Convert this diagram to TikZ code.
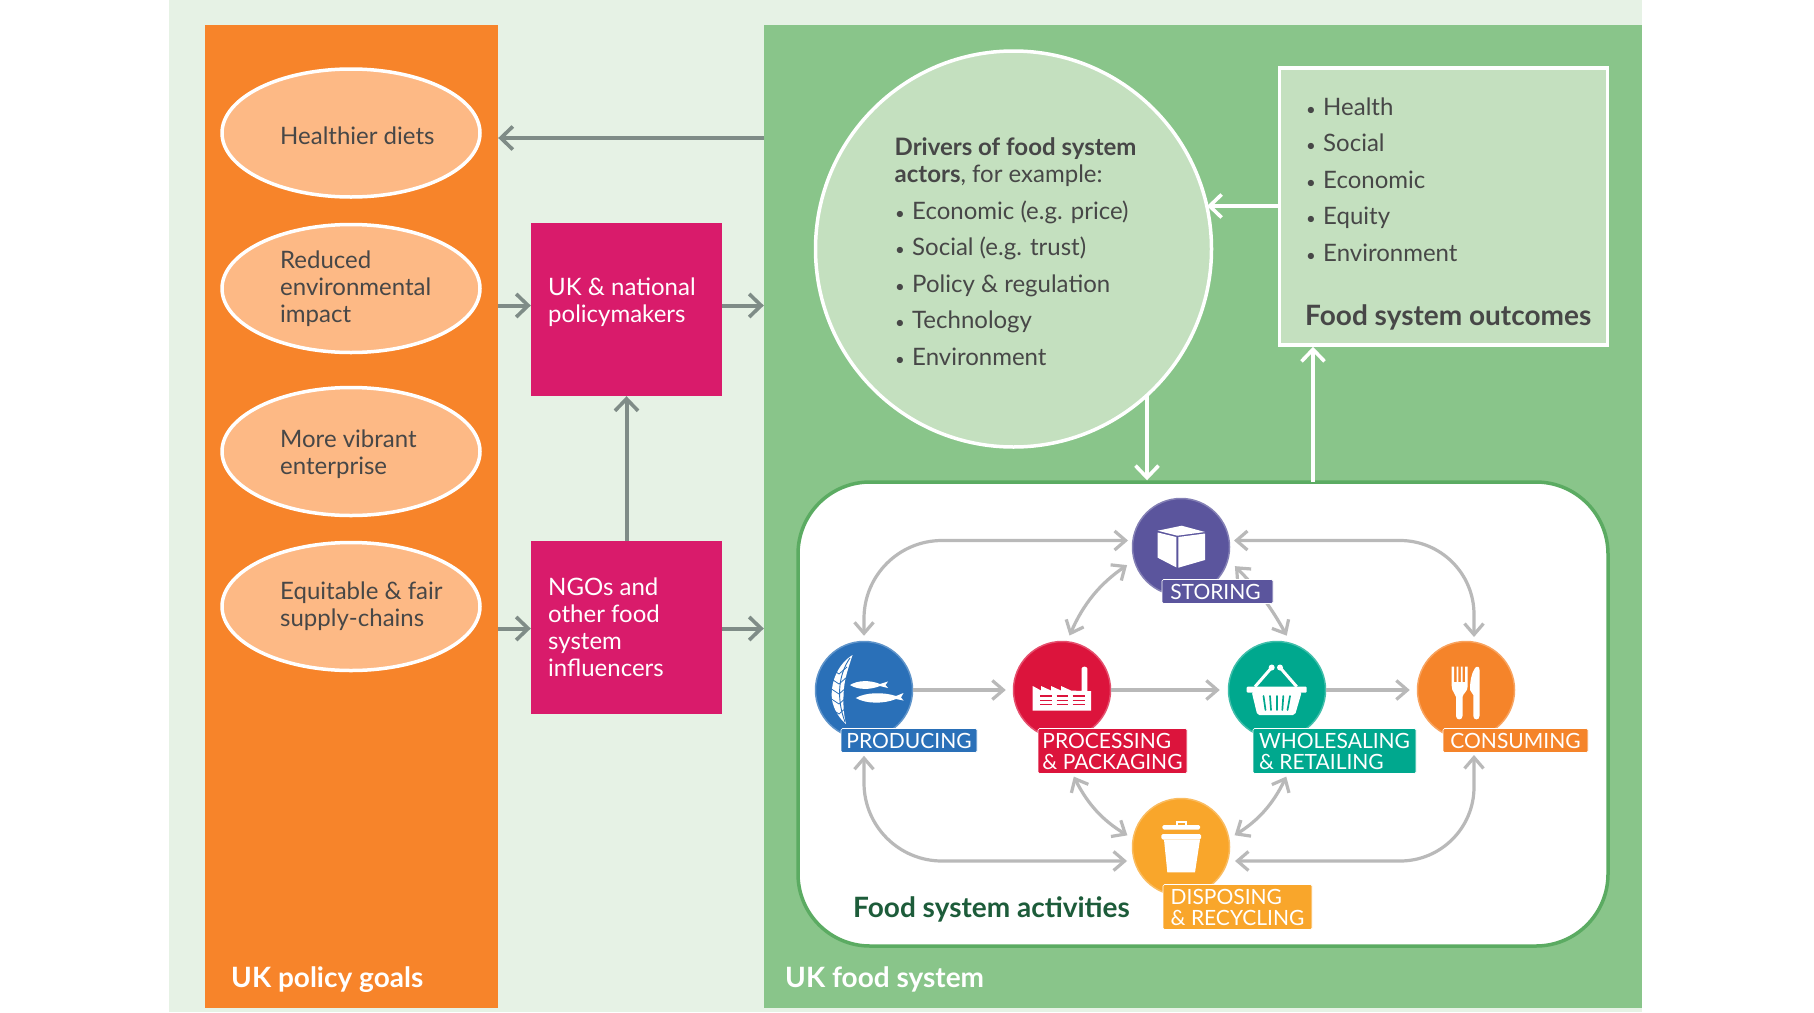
\documentclass[tikz,border=0pt]{standalone}
\usepackage{fontspec}
\setmainfont{Lato}
\usetikzlibrary{shapes.geometric,arrows.meta,calc}
\definecolor{pale}{HTML}{E6F2E5}
\definecolor{goalorange}{HTML}{F7842A}
\definecolor{sysgreen}{HTML}{89C58A}
\definecolor{softgreen}{HTML}{C4E0BF}
\definecolor{peach}{HTML}{FDB985}
\definecolor{rimgreen}{HTML}{5BAB62}
\definecolor{magenta}{HTML}{D91B6B}
\definecolor{ink}{HTML}{474747}
\definecolor{midgrey}{HTML}{7F8C87}
\definecolor{lightgrey}{HTML}{B9B9B9}
\definecolor{darkgreen}{HTML}{1D5C3A}
\definecolor{cblue}{HTML}{2A70B8}
\definecolor{cred}{HTML}{DC143C}
\definecolor{cteal}{HTML}{00A88E}
\definecolor{corange}{HTML}{F5842A}
\definecolor{cpurple}{HTML}{5B559D}
\definecolor{camber}{HTML}{F9A62B}
\newcommand{\bodyfont}{\fontsize{24}{27}\selectfont}
\newcommand{\listfont}{\fontsize{24}{36.4}\selectfont}
\newcommand{\itm}{\makebox[17pt][l]{\scalebox{.7}{•}}}
\tikzset{
  x=1pt,y=-1pt,
  goal/.style={ellipse,draw=white,line width=3.5pt,fill=peach,minimum width=258pt,minimum height=128pt,inner sep=0pt},
  actor/.style={rectangle,fill=magenta,inner sep=0pt,minimum width=191pt,minimum height=173pt},
  textlabel/.style={anchor=west,inner sep=0pt,align=left,text=ink,font=\bodyfont},
  whitelabel/.style={textlabel,text=white},
  title/.style={anchor=west,inner sep=0pt,font=\fontsize{28}{30}\selectfont\bfseries},
  stage/.style={circle,fill=#1,draw=#1!75!white,line width=1.5pt,minimum size=97pt,inner sep=0pt},
  tag/.style={rectangle,rounded corners=1.5pt,fill=#1,draw=white,line width=.6pt,inner sep=0pt,text=white,
    align=left,font=\fontsize{21}{21}\selectfont},
  mainarrow/.style={draw=midgrey,line width=4pt,-{Straight Barb[length=12pt,width=23pt,line width=3.6pt]}},
  whitearrow/.style={draw=white,line width=4pt,-{Straight Barb[length=12pt,width=23pt,line width=3.6pt]}},
  flow/.style={draw=lightgrey,line width=4.5pt,-{Straight Barb[length=11pt,width=19pt,line width=3.2pt]}},
  link/.style={draw=lightgrey,line width=3.2pt,{Straight Barb[length=11pt,width=19pt,line width=3.2pt]}-{Straight Barb[length=11pt,width=19pt,line width=3.2pt]}},
}
\begin{document}
\begin{tikzpicture}
\useasboundingbox (0,0) rectangle (1814,1012);
\fill[white] (0,0) rectangle (1814,1012);
\fill[pale] (169,0) rectangle (1642,1012);

% panels
\node[rectangle,fill=goalorange,inner sep=0pt,minimum width=293pt,minimum height=983pt] (goals) at (351.5,516) {};
\node[rectangle,fill=sysgreen,inner sep=0pt,minimum width=878pt,minimum height=983pt] (system) at (1203,516) {};
\node[title,text=white] (goalstitle) at (231,979.5) {UK policy goals};
\node[title,text=white] (systemtitle) at (785,979.5) {UK food system};

% policy goals
\node[goal] (g1) at (351,133) {};
\node[goal] (g2) at (351,288.5) {};
\node[goal] (g3) at (351,451.5) {};
\node[goal] (g4) at (351,606.5) {};
\node[textlabel] (g1t) at (280,135.5) {Healthier diets};
\node[textlabel] (g2t) at (280,289) {Reduced\\environmental\\impact};
\node[textlabel] (g3t) at (280,454) {More vibrant\\enterprise};
\node[textlabel] (g4t) at (280,606) {Equitable \& fair\\supply-chains};

% actors
\node[actor] (policy) at (626.5,309.5) {};
\node[actor] (ngo) at (626.5,627.5) {};
\node[whitelabel] (policyt) at (548,302) {UK \& national\\policymakers};
\node[whitelabel] (ngot) at (548,627.5) {NGOs and\\other food\\system\\influencers};

% drivers and outcomes
\node[circle,fill=softgreen,draw=white,line width=3.5pt,minimum size=396pt,inner sep=0pt] (drivers) at (1013.5,249) {};
\node[textlabel] (driverhead) at (894.5,162.5) {\textbf{Drivers of food system}\\\textbf{actors}, for example:};
\node[textlabel,font=\listfont] (driverlist) at (895,283) {\itm Economic (e.g. price)\\\itm Social (e.g. trust)\\\itm Policy \& regulation\\\itm Technology\\\itm Environment};
\node[rectangle,fill=softgreen,draw=white,line width=3.5pt,inner sep=0pt,minimum width=328pt,minimum height=277pt] (outcomes) at (1443.5,206.5) {};
\node[textlabel,font=\listfont] (outcomelist) at (1306,179.5) {\itm Health\\\itm Social\\\itm Economic\\\itm Equity\\\itm Environment};
\node[title,text=ink] (outcometitle) at (1305,317) {Food system outcomes};

% activities panel
\node[rectangle,rounded corners=72pt,fill=white,draw=rimgreen,line width=3.5pt,inner sep=0pt,minimum width=810pt,minimum height=464pt] (activities) at (1203,714) {};
\node[title,text=darkgreen] (activitiestitle) at (853,909) {Food system activities};

% links between the panels
\draw[mainarrow] (system.west |- 0,138) -- (goals.east |- 0,138);
\coordinate (a) at (goals.east |- 0,305.5);
\coordinate (b) at (goals.east |- 0,628.5);
\draw[mainarrow] (a) -- (policy.west |- a);
\draw[mainarrow] (policy.east |- a) -- (system.west |- a);
\draw[mainarrow] (b) -- (ngo.west |- b);
\draw[mainarrow] (ngo.east |- b) -- (system.west |- b);
\draw[mainarrow] (ngo.north) -- (policy.south);
\coordinate (dside) at (1207,206);
\draw[whitearrow] (outcomes.west |- dside) -- (dside);
\coordinate (dfoot) at (1147,395);
\draw[whitearrow] (dfoot) -- (activities.north -| dfoot);
\coordinate (ofoot) at (1313,482);
\draw[whitearrow] (ofoot) -- (outcomes.south -| ofoot);

% stage circles
\node[stage=cblue] (prod) at (864,690) {};
\node[stage=cred] (proc) at (1062,690) {};
\node[stage=cteal] (whole) at (1277,690) {};
\node[stage=corange] (cons) at (1466,690) {};
\node[stage=cpurple] (stor) at (1181,547) {};
\node[stage=camber] (disp) at (1181,847) {};

% stage tags
\node[tag=cblue,minimum width=136pt,minimum height=24pt] (prodtag) at (909,740.5) {PRODUCING};
\node[tag=cred,minimum width=149pt,minimum height=45pt] (proctag) at (1112.5,751) {PROCESSING\\\& PACKAGING};
\node[tag=cteal,minimum width=163pt,minimum height=45pt] (wholetag) at (1334.5,751) {WHOLESALING\\\& RETAILING};
\node[tag=corange,minimum width=145pt,minimum height=24pt] (constag) at (1515.5,740.5) {CONSUMING};
\node[tag=camber,minimum width=149pt,minimum height=45pt] (disptag) at (1237.5,907) {DISPOSING\\\& RECYCLING};

% flows between the stages
\draw[flow,shorten >=7pt] (prod.east) -- (proc.west);
\draw[flow,shorten >=8pt] (proc.east) -- (whole.west);
\draw[flow,shorten >=7pt] (whole.east) -- (cons.west);
\coordinate (storleft) at (1133,540.5);
\coordinate (storright) at (1229,540.5);
\coordinate (displeft) at (1133,861);
\coordinate (dispright) at (1229,861);
\coordinate (consfoot) at (1474,752);
\coordinate (consknee) at (1474,642);
\draw[link,shorten <=5pt,shorten >=5pt,rounded corners=78pt] (storleft) -| (prod.north);
\draw[link,shorten <=5pt,shorten >=5pt,rounded corners=74pt] (storright) -| (consknee);
\draw[link,shorten <=6pt,shorten >=3pt,rounded corners=78pt] (displeft) -| (prod.south |- prodtag.south);
\draw[link,shorten <=6pt,shorten >=3pt,rounded corners=74pt] (dispright) -| (consfoot);
\draw[link,shorten <=8pt,shorten >=6pt] (stor.196) to[bend right=16] (proc.84);
\draw[link,shorten <=9pt,shorten >=8pt] (stor.345) to[bend left=8] (whole.74);
\coordinate (procfoot) at (1072,773);
\coordinate (wholefoot) at (1288,773);
\draw[link,shorten <=4pt,shorten >=6pt] (procfoot) to[bend right=16] (disp.170);
\draw[link,shorten <=4pt,shorten >=6pt] (wholefoot) to[bend left=16] (disp.10);
\node[tag=cpurple,minimum width=111pt,minimum height=24pt] (stortag) at (1217.5,591.5) {STORING\kern4pt};

% crate
\fill[white] (1157.7,530.7) -- (1181.7,525.7) -- (1205,532) -- (1177.3,535.7) -- cycle;
\fill[white] (1157.7,532.5) -- (1176.3,537) -- (1176.3,567.4) -- (1157.7,557.7) -- cycle;
\fill[white] (1178.3,537) -- (1205,533.5) -- (1205,560) -- (1178.3,567.7) -- cycle;

% wheat and fish
\fill[white] (852.5,655) .. controls (838,664) and (830,682) .. (832,700) .. controls (834,710) and (839,718) .. (846,724) .. controls (843,712) and (843,700) .. (844,688) .. controls (845,677) and (849,666) .. (852.5,655) -- cycle;
\foreach \yy in {672,682,692,702,712} \draw[cblue,line width=.8pt] (830,\yy-4) -- (839,\yy+2) -- (847,\yy-5);
\draw[cblue,line width=.9pt] (850,658) .. controls (840,672) and (835,695) .. (845,722);
\fill[white] (850,685) .. controls (858,680) and (870,680) .. (880,684) -- (888,681.5) -- (885.5,685) -- (888,688) -- (880,686) .. controls (870,690) and (858,690) .. (850,685) -- cycle;
\fill[white] (855.7,698) .. controls (866,692) and (884,692) .. (896,696) -- (903.5,693) -- (901,697.5) -- (903.5,700.5) -- (896,699) .. controls (884,704) and (866,704) .. (855.7,698) -- cycle;

% factory
\fill[white] (1032.7,686) -- (1041,690.5) -- (1041,686) -- (1051,690.5) -- (1051,686) -- (1061,690.5) -- (1061,686) -- (1071,690.5) -- (1081.7,691) -- (1081.7,668.5) .. controls (1082,666) and (1087,666) .. (1087.3,668.5) -- (1087.3,691) -- (1091,691) -- (1091,710.7) -- (1032.7,710.7) -- cycle;
\foreach \xa/\xb in {1040/1051.7,1056.7/1068.3,1072.7/1085}
  \foreach \yy in {696,700.5,704.5}
    \draw[cred,line width=1.3pt] (\xa,\yy) -- (\xb,\yy);

% basket
\fill[white,rounded corners=1pt] (1246.7,686.7) rectangle (1306.7,692.7);
\fill[white,rounded corners=2pt] (1251.7,692) -- (1301.7,692) -- (1295,715) -- (1257.3,715) -- cycle;
\foreach \xa/\xb in {1263.5/1265.5,1270/1271,1276.7/1276.7,1283.3/1282.3,1290/1287.5}
  \draw[cteal,line width=1.7pt,line cap=round] (\xa,696) -- (\xb,710);
\draw[white,line width=3pt] (1255,686.7) -- (1271.7,667.5);
\draw[white,line width=3pt] (1296.7,686.7) -- (1280,667.5);
\fill[white] (1271.7,667.5) circle (3pt) (1280,667.5) circle (3pt);

% cutlery
\fill[white] (1451.7,666.7) -- (1454.2,666.7) -- (1454.2,682) -- (1456.6,682) -- (1456.6,666.7) -- (1458.4,666.7) -- (1458.4,682) -- (1460.8,682) -- (1460.8,666.7) -- (1462.6,666.7) -- (1462.6,682) -- (1465,682) -- (1465,666.7) -- (1467.7,666.7) -- (1467.7,686) .. controls (1467.7,692) and (1463,693) .. (1462.5,697) -- (1462.5,716) .. controls (1462.5,720.5) and (1456,720.5) .. (1456,716) -- (1456,697) .. controls (1455.5,693) and (1451.7,692) .. (1451.7,686) -- cycle;
\fill[white] (1479.5,670) .. controls (1479.5,666) and (1477,666) .. (1475,668) .. controls (1471,674) and (1470,682) .. (1470,690) -- (1473.3,695) -- (1473.3,716) .. controls (1473.3,720.5) and (1479.5,720.5) .. (1479.5,716) -- cycle;

% refuse bin
\fill[white] (1164,839.5) -- (1200,839.5) -- (1195,872.3) -- (1167.3,872.3) -- cycle;
\fill[white,rounded corners=1.5pt] (1161.3,834) rectangle (1201,839.5);
\fill[white,rounded corners=1.5pt] (1162.3,825) rectangle (1200,829.5);
\draw[white,line width=1.5pt] (1177,826) -- (1177,822) -- (1186,822) -- (1186,826);
\end{tikzpicture}
\end{document}
